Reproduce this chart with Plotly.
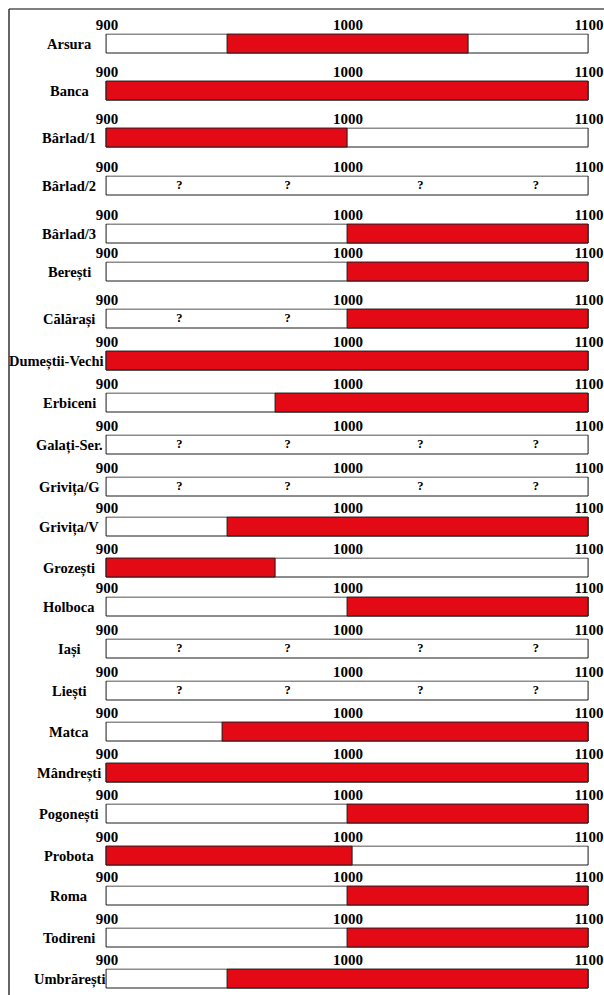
import plotly.graph_objects as go

# sites and dated intervals (red = attested occupation)
sites = ["Arsura", "Banca", "Bârlad/1", "Bârlad/2", "Bârlad/3", "Berești", "Călărași",
         "Dumeștii-Vechi", "Erbiceni", "Galați-Ser.", "Grivița/G", "Grivița/V", "Grozești",
         "Holboca", "Iași", "Liești", "Matca", "Mândrești", "Pogonești", "Probota",
         "Roma", "Todireni", "Umbrărești"]
red_start = [950, 900, 900, None, 1000, 1000, 1000, 900, 970, None, None, 950, 900,
             1000, None, None, 948, 900, 1000, 900, 1000, 1000, 950]
red_end = [1050, 1100, 1000, None, 1100, 1100, 1100, 1100, 1100, None, None, 1100, 970,
           1100, None, None, 1100, 1100, 1100, 1002, 1100, 1100, 1100]
q_all = [930, 975, 1030, 1078]
q_marks = {"Bârlad/2": q_all, "Călărași": q_all[:2], "Galați-Ser.": q_all,
           "Grivița/G": q_all, "Iași": q_all, "Liești": q_all}
tick_vals = [900, 1000, 1100]

# layout (pixels)
W, H = 604, 995
row_centers = [44, 91, 138, 186, 234, 272, 319, 361, 403, 445, 487, 527, 568,
               607, 649, 691, 732, 773, 814, 856, 896, 938, 979]
x0_px, x1_px = 107, 589
px_per_yr = (x1_px - x0_px) / 200
RED = "#e30a16"
EDGE = "#1a1a1a"
font = dict(family="Liberation Serif, Times New Roman, serif", size=15, color="black", weight="bold")

fig = go.Figure()
layout = dict(width=W, height=H, margin=dict(l=0, r=0, t=0, b=0, autoexpand=False),
              paper_bgcolor="white", plot_bgcolor="rgba(0,0,0,0)", showlegend=False,
              bargap=0, barmode="overlay")
annotations = []

for i, name in enumerate(sites):
    n = i + 1
    key = "" if n == 1 else str(n)
    xa, ya = "x" + key, "y" + key
    c = row_centers[i]
    half = 10.5
    dom_y = [1 - (c + half) / H, 1 - (c - half) / H]
    dom_x = [(x0_px - px_per_yr) / W, (x1_px + px_per_yr) / W]

    fig.add_trace(go.Bar(x=[200], base=[900], y=[0], orientation="h", width=1,
                         marker=dict(color="white", line=dict(color=EDGE, width=1)),
                         xaxis=xa, yaxis=ya, hoverinfo="skip"))
    if red_start[i] is not None:
        fig.add_trace(go.Bar(x=[red_end[i] - red_start[i]], base=[red_start[i]], y=[0],
                             orientation="h", width=1,
                             marker=dict(color=RED, line=dict(color=EDGE, width=1)),
                             xaxis=xa, yaxis=ya, hoverinfo="skip"))
    if name in q_marks:
        q = q_marks[name]
        fig.add_trace(go.Scatter(x=q, y=[0] * len(q), mode="text", text=["?"] * len(q),
                                 textfont=dict(family=font["family"], size=12.5, color="black",
                                               weight="bold"),
                                 xaxis=xa, yaxis=ya, hoverinfo="skip"))

    layout["xaxis" + key] = dict(domain=dom_x, range=[899, 1101], anchor=ya, side="top",
                                 tickvals=tick_vals, ticks="", showgrid=False, zeroline=False,
                                 showline=False, tickfont=font, fixedrange=True,
                                 automargin=False)
    layout["yaxis" + key] = dict(domain=dom_y, range=[-0.55, 0.55], anchor=xa, visible=False,
                                 fixedrange=True, automargin=False)

    long_name = len(name) > 12
    annotations.append(dict(text=name, xref="paper", yref=ya + " domain",
                            x=(106 if long_name else 69) / W, y=0.5,
                            xanchor="right" if long_name else "center", yanchor="middle",
                            showarrow=False, font=dict(font, size=14.5)))

layout["annotations"] = annotations
layout["shapes"] = [
    dict(type="line", xref="paper", yref="paper", x0=9 / W, x1=1, y0=1 - 9 / H, y1=1 - 9 / H,
         line=dict(color="#7f7f7f", width=2)),
    dict(type="line", xref="paper", yref="paper", x0=9 / W, x1=9 / W, y0=0, y1=1 - 9 / H,
         line=dict(color="#333333", width=1.5)),
]
fig.update_layout(**layout)

fig.write_html("out.html", config={"displayModeBar": False},
               post_script="document.body.style.margin='0';")
